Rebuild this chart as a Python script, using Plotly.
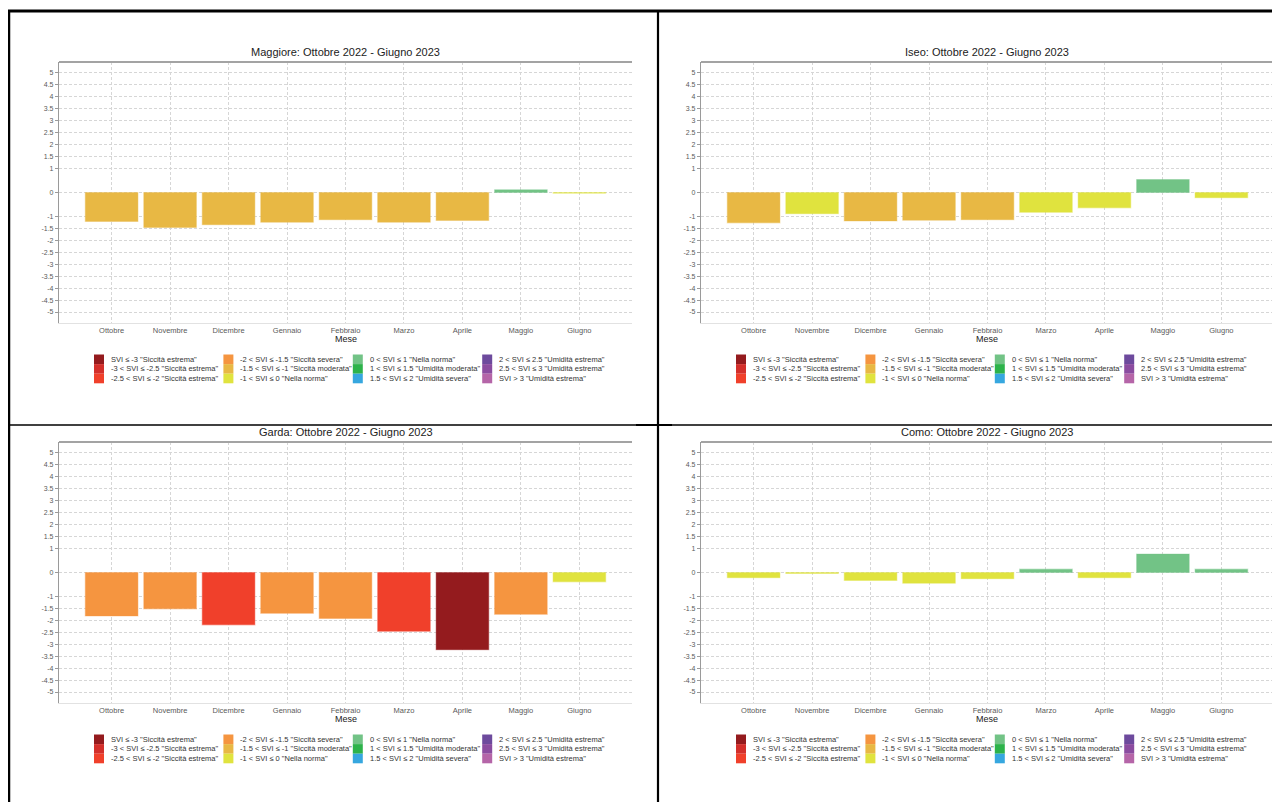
import plotly.graph_objects as go

# ---------------- data ----------------
months = ["Ottobre", "Novembre", "Dicembre", "Gennaio", "Febbraio",
          "Marzo", "Aprile", "Maggio", "Giugno"]

maggiore = [-1.21, -1.46, -1.35, -1.24, -1.14, -1.24, -1.17, 0.11, -0.03]
iseo = [-1.27, -0.89, -1.19, -1.16, -1.14, -0.83, -0.64, 0.54, -0.22]
garda = [-1.82, -1.52, -2.19, -1.71, -1.92, -2.46, -3.23, -1.75, -0.39]
como = [-0.22, -0.04, -0.33, -0.45, -0.26, 0.14, -0.22, 0.77, 0.14]

lake_names = ["Maggiore", "Iseo", "Garda", "Como"]
period = "Ottobre 2022 - Giugno 2023"

ytick_vals = [5, 4.5, 4, 3.5, 3, 2.5, 2, 1.5, 1, 0, -1, -1.5, -2, -2.5,
              -3, -3.5, -4, -4.5, -5]
ytick_text = ["5", "4.5", "4", "3.5", "3", "2.5", "2", "1.5", "1", "0",
              "-1", "-1.5", "-2", "-2.5", "-3", "-3.5", "-4", "-4.5", "-5"]

# class upper bounds (inclusive), colours and labels
class_upper = [-3, -2.5, -2, -1.5, -1, 0, 1, 1.5, 2, 2.5, 3, float("inf")]
class_colors = ["#941b1e", "#d32f2b", "#f0402b", "#f59540", "#e8b844",
                "#e0e33e", "#72c386", "#2cb34a", "#36a7df", "#6d4a9d",
                "#8b4ca0", "#b565a8"]
class_labels = [
    'SVI ≤ -3 "Siccità estrema"',
    '-3 < SVI ≤ -2.5 "Siccità estrema"',
    '-2.5 < SVI ≤ -2 "Siccità estrema"',
    '-2 < SVI ≤ -1.5 "Siccità severa"',
    '-1.5 < SVI ≤ -1 "Siccità moderata"',
    '-1 < SVI ≤ 0 "Nella norma"',
    '0 < SVI ≤ 1 "Nella norma"',
    '1 < SVI ≤ 1.5 "Umidità moderata"',
    '1.5 < SVI ≤ 2 "Umidità severa"',
    '2 < SVI ≤ 2.5 "Umidità estrema"',
    '2.5 < SVI ≤ 3 "Umidità estrema"',
    'SVI > 3 "Umidità estrema"',
]

series = [maggiore, iseo, garda, como]

# ---------------- layout helpers ----------------
# the page body has an 8px margin, so the figure starts at (8, 8) in the window
OFF = 8
W, H = 1272, 794


def px(x):
    return (x - OFF) / W


def py(y):
    return 1 - (y - OFF) / H


def classify(v):
    for ub, c in zip(class_upper, class_colors):
        if v <= ub:
            return c
    return class_colors[-1]


def hex_alpha(h, a):
    h = h.lstrip("#")
    r, g, b = int(h[0:2], 16), int(h[2:4], 16), int(h[4:6], 16)
    return f"rgba({r},{g},{b},{a})"


# panel plot-area origins (window pixels)
origins = [(59, 62), (701, 62), (59, 442), (701, 442)]
PW, PH = 573, 261

fig = go.Figure()
shapes = []
annotations = []

for i, (name, vals, (ox, oy)) in enumerate(zip(lake_names, series, origins)):
    k = "" if i == 0 else str(i + 1)
    cols = [classify(v) for v in vals]
    fig.add_trace(go.Bar(
        x=months, y=vals, width=0.9,
        marker=dict(color=cols,
                    line=dict(color=[hex_alpha(c, 0.35) for c in cols], width=1.2)),
        xaxis="x" + k, yaxis="y" + k, showlegend=False,
        hovertemplate="%{x}: %{y}<extra></extra>",
    ))
    xd = [px(ox), px(ox + PW)]
    yd = [py(oy + PH), py(oy)]
    fig.layout["xaxis" + k] = dict(
        domain=xd, anchor="y" + k, range=[-0.9, 8.9],
        categoryorder="array", categoryarray=months,
        showgrid=True, gridcolor="#d6d6d6", griddash="3px,2px", gridwidth=0.8,
        showline=True, linecolor="#e2e2e2", linewidth=1,
        ticks="", tickfont=dict(size=7.5, color="#5a5a5a", family="Liberation Sans"),
        fixedrange=True,
    )
    fig.layout["yaxis" + k] = dict(
        domain=yd, anchor="x" + k, range=[-5.46, 5.46],
        tickmode="array", tickvals=ytick_vals, ticktext=ytick_text,
        showgrid=True, gridcolor="#d6d6d6", griddash="3px,2px", gridwidth=0.8,
        zeroline=False,
        showline=True, linecolor="#9a9a9a", linewidth=1.2,
        ticks="outside", ticklen=3, tickcolor="#9a9a9a", tickwidth=1,
        tickfont=dict(size=7, color="#5a5a5a", family="Liberation Sans"),
        fixedrange=True,
    )
    # top border of plot area
    shapes.append(dict(type="line", xref="paper", yref="paper",
                       x0=px(ox), x1=px(ox + PW), y0=py(oy), y1=py(oy),
                       line=dict(color="#a3a3a3", width=1.8)))
    # title
    annotations.append(dict(
        text=f"{name}: {period}", xref="paper", yref="paper",
        x=px(ox + PW / 2), y=py(oy - 10), xanchor="center", yanchor="middle",
        showarrow=False, font=dict(size=11, color="#222", family="Liberation Sans")))
    # x axis title
    annotations.append(dict(
        text="Mese", xref="paper", yref="paper",
        x=px(ox + PW / 2), y=py(oy + PH + 16), xanchor="center", yanchor="middle",
        showarrow=False, font=dict(size=9, color="#222", family="Liberation Sans")))
    # legend (3 rows x 4 columns, column-major)
    for j, (lab, col) in enumerate(zip(class_labels, class_colors)):
        c, r = j // 3, j % 3
        sx = ox + 35 + c * 129.4
        sy = oy + 297.3 + r * 9.6
        shapes.append(dict(type="rect", xref="paper", yref="paper",
                           x0=px(sx), x1=px(sx + 10),
                           y0=py(sy + 4.8), y1=py(sy - 4.8),
                           fillcolor=col, line=dict(width=0)))
        annotations.append(dict(
            text=lab, xref="paper", yref="paper",
            x=px(sx + 15), y=py(sy), xanchor="left", yanchor="middle",
            showarrow=False, font=dict(size=7.5, color="#333", family="Liberation Sans")))

# page frame lines (window pixels)
frame = [
    (8, 11, 1280, 11, 3),
    (9, 11, 9, 802, 2.5),
    (658, 11, 658, 802, 2.2),
    (8, 425, 1280, 425, 1.3),
    (636, 425, 672, 425, 2.2),
]
for x0, y0, x1, y1, w in frame:
    shapes.append(dict(type="line", xref="paper", yref="paper",
                       x0=px(x0), x1=px(x1), y0=py(y0), y1=py(y1),
                       line=dict(color="black", width=w)))

fig.update_layout(
    width=W, height=H,
    margin=dict(l=0, r=0, t=0, b=0),
    paper_bgcolor="white", plot_bgcolor="white",
    font=dict(family="Liberation Sans"),
    shapes=shapes, annotations=annotations,
    bargap=0.1,
)

fig.write_html("out.html")
